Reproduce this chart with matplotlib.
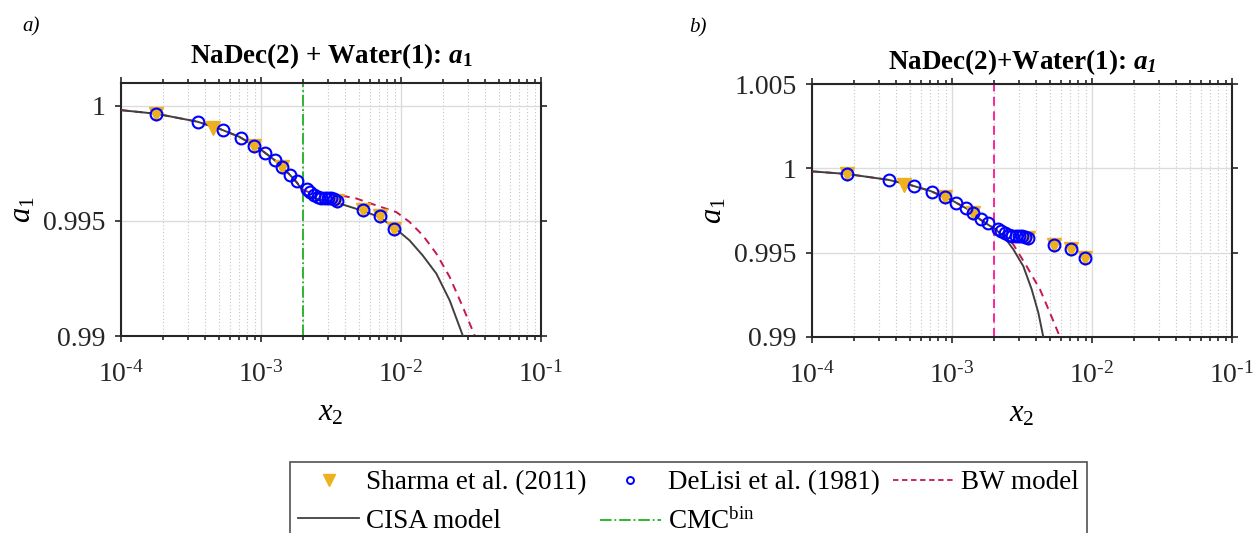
import matplotlib
matplotlib.use("Agg")
import numpy as np
import matplotlib.pyplot as plt
from matplotlib.ticker import LogLocator, NullFormatter, FixedLocator, FuncFormatter
from matplotlib.lines import Line2D

plt.rcParams['font.family'] = ['Liberation Serif', 'DejaVu Serif']
plt.rcParams['mathtext.fontset'] = 'custom'
plt.rcParams['mathtext.rm'] = 'Liberation Serif'
plt.rcParams['mathtext.it'] = 'Liberation Serif:italic'
plt.rcParams['mathtext.bf'] = 'Liberation Serif:bold'
plt.rcParams['mathtext.bfit'] = 'Liberation Serif:italic:bold'

delisi_x = [1.79e-4, 3.56e-4, 5.35e-4, 7.19e-4, 8.9e-4, 1.07e-3, 1.26e-3, 1.41e-3,
            1.60e-3, 1.80e-3, 2.12e-3, 2.25e-3, 2.40e-3, 2.55e-3, 2.70e-3, 2.85e-3,
            3.00e-3, 3.15e-3, 3.30e-3, 3.50e-3, 5.33e-3, 7.03e-3, 8.85e-3]
delisi_a1 = [0.99964, 0.99929, 0.99895, 0.99862, 0.99828, 0.99797, 0.99765, 0.99733,
             0.99702, 0.99674, 0.99641, 0.99628, 0.99615, 0.99605, 0.99600, 0.99600,
             0.99600, 0.99598, 0.99595, 0.99585, 0.99547, 0.99520, 0.99467]

sharma_x = [1.79e-4, 4.55e-4, 8.9e-4, 1.41e-3, 3.50e-3, 5.33e-3, 7.03e-3, 8.85e-3]
sharma_a1 = [0.99964, 0.99903, 0.99828, 0.99733, 0.99585, 0.99547, 0.99520, 0.99467]

# Model curves, panel a)
cisa_x_a = [1e-4, 1.8e-4, 3.5e-4, 5e-4, 7e-4, 1e-3, 1.3e-3, 1.6e-3, 1.8e-3, 2.0e-3,
            2.05e-3, 2.3e-3, 2.76e-3, 3.64e-3, 5.34e-3, 7.03e-3, 9.0e-3, 1.15e-2,
            1.43e-2, 1.79e-2, 2.23e-2, 2.77e-2]
cisa_a1_a = [0.99982, 0.99966, 0.99932, 0.99902, 0.99866, 0.99810, 0.99757, 0.99702,
             0.99668, 0.99628, 0.99612, 0.99603, 0.99590, 0.99576, 0.99544, 0.99517,
             0.99470, 0.99416, 0.99350, 0.99271, 0.99154, 0.99]
bw_x_a = [1e-4, 1.8e-4, 3.5e-4, 5e-4, 7e-4, 1e-3, 1.3e-3, 1.6e-3, 1.8e-3, 2.0e-3,
          2.2e-3, 2.76e-3, 3.64e-3, 4.79e-3, 6.65e-3, 9.25e-3, 1.15e-2, 1.43e-2,
          1.79e-2, 2.23e-2, 2.77e-2, 3.37e-2]
bw_a1_a = [0.99982, 0.99966, 0.99932, 0.99902, 0.99866, 0.99810, 0.99757, 0.99702,
           0.99668, 0.99636, 0.99625, 0.99619, 0.99612, 0.99598, 0.99568, 0.99539,
           0.99496, 0.99438, 0.99358, 0.99256, 0.99125, 0.99]

# Model curves, panel b)
cisa_x_b = [1e-4, 1.8e-4, 3.5e-4, 5e-4, 7e-4, 1e-3, 1.3e-3, 1.58e-3, 2.03e-3, 2.33e-3,
            2.74e-3, 3.23e-3, 3.71e-3, 4.14e-3, 4.49e-3]
cisa_a1_b = [0.99982, 0.99966, 0.99932, 0.99902, 0.99866, 0.99810, 0.99757, 0.99698,
             0.99639, 0.99599, 0.99520, 0.99420, 0.99282, 0.99143, 0.99]
bw_x_b = [1e-4, 1.8e-4, 3.5e-4, 5e-4, 7e-4, 1e-3, 1.3e-3, 1.58e-3, 2.03e-3, 2.33e-3,
          2.74e-3, 3.41e-3, 4.25e-3, 5.01e-3, 5.9e-3]
bw_a1_b = [0.99982, 0.99966, 0.99932, 0.99902, 0.99866, 0.99810, 0.99757, 0.99698,
           0.99642, 0.99619, 0.99549, 0.99420, 0.99282, 0.99143, 0.99]

cmc_x = 2e-3

ORANGE = '#EDB120'
BLUE = '#0000FF'
BW_RED = '#C8174A'
CISA_GRAY = '#404040'
CMC_GREEN = '#1FB01F'
CMC_PINK = '#FF1493'
INK = '#262626'
HYPHEN = '\u2010'

fig = plt.figure(figsize=(12.55, 5.33), dpi=100)
ax1 = fig.add_axes([121 / 1255, 1 - 336 / 533, 420 / 1255, 253 / 533])
ax2 = fig.add_axes([812 / 1255, 1 - 337 / 533, 420 / 1255, 253 / 533])


def pow10(v, pos):
    e = int(round(np.log10(v)))
    sign = HYPHEN if e < 0 else ''
    return '$\\mathregular{10^{' + sign + str(abs(e)) + '}}$'


def style_axes(ax, ylim, yticks):
    ax.set_xscale('log')
    ax.set_xlim(1e-4, 1e-1)
    ax.set_ylim(*ylim)
    ax.yaxis.set_major_locator(FixedLocator(yticks))
    ax.set_yticklabels([f'{t:g}' for t in yticks])
    ax.xaxis.set_major_locator(LogLocator(base=10, numticks=10))
    ax.xaxis.set_major_formatter(FuncFormatter(pow10))
    ax.xaxis.set_minor_locator(LogLocator(base=10, subs=range(2, 10), numticks=10))
    ax.xaxis.set_minor_formatter(NullFormatter())
    ax.grid(True, which='major', color='#dcdcdc', lw=1.0, ls='-')
    ax.grid(True, which='minor', axis='x', color='#c4c4c4', lw=0.8, ls=(0, (1, 2)))
    ax.tick_params(which='both', direction='out', top=True, right=True,
                   labelsize=20, colors=INK, width=1.2)
    ax.tick_params(which='major', length=4, pad=7)
    ax.tick_params(which='minor', length=3)
    ax.tick_params(axis='x', which='major', pad=14)
    for s in ax.spines.values():
        s.set_color(INK)
        s.set_linewidth(1.5)
    ax.set_axisbelow(True)


# panel a)
ax1.plot(cisa_x_a, cisa_a1_a, color=CISA_GRAY, lw=1.4, zorder=3)
ax1.plot(bw_x_a, bw_a1_a, color=BW_RED, lw=1.4, ls=(0, (4, 3)), zorder=2)
ax1.axvline(cmc_x, color=CMC_GREEN, lw=1.3, ls='-.', zorder=2)
ax1.plot(sharma_x, sharma_a1, 'v', color=ORANGE, ms=9.5, zorder=4)
ax1.plot(delisi_x, delisi_a1, 'o', mfc='none', mec=BLUE, mew=1.5, ms=8.5, zorder=5)
style_axes(ax1, (0.99, 1.001), [0.99, 0.995, 1])
ax1.set_title(r'NaDec(2) + Water(1): $\mathbfit{a}_{\mathbf{1}}$', fontsize=19.5,
              fontweight='bold', pad=14)
ax1.set_ylabel(r'$a_{\mathrm{1}}$', fontsize=22, labelpad=4)
ax1.set_xlabel(r'$x_2$', fontsize=22, labelpad=8)

# panel b)
ax2.plot(cisa_x_b, cisa_a1_b, color=CISA_GRAY, lw=1.4, zorder=3)
ax2.plot(bw_x_b, bw_a1_b, color=BW_RED, lw=1.4, ls=(0, (4, 3)), zorder=2)
ax2.axvline(cmc_x, color=CMC_PINK, lw=1.3, ls=(0, (5, 3)), zorder=2)
ax2.plot(sharma_x, sharma_a1, 'v', color=ORANGE, ms=9.5, zorder=4)
ax2.plot(delisi_x, delisi_a1, 'o', mfc='none', mec=BLUE, mew=1.5, ms=8.5, zorder=5)
style_axes(ax2, (0.99, 1.005), [0.99, 0.995, 1, 1.005])
ax2.set_title(r'NaDec(2)+Water(1): $\mathbfit{a}_{\mathbfit{1}}$', fontsize=19.5,
              fontweight='bold', pad=11)
ax2.set_ylabel(r'$a_1$', fontsize=22, labelpad=4)
ax2.set_xlabel(r'$x_2$', fontsize=22, labelpad=8)

fig.text(0.018, 0.968, 'a)', fontsize=15, style='italic', va='top')
fig.text(0.549, 0.965, 'b)', fontsize=15, style='italic', va='top')

handles = [
    Line2D([], [], ls='none', marker='v', color=ORANGE, ms=9),
    Line2D([], [], color=CISA_GRAY, lw=1.3),
    Line2D([], [], ls='none', marker='o', mfc='none', mec=BLUE, mew=1.4, ms=5),
    Line2D([], [], color=CMC_GREEN, lw=1.3, ls='-.'),
    Line2D([], [], color=BW_RED, lw=1.3, ls=(0, (3, 2))),
]
labels = ['Sharma et al. (2011)', 'CISA model', 'DeLisi et al. (1981)',
          r'CMC$^{\mathrm{bin}}$', 'BW model']
leg = fig.legend(handles, labels, loc='upper left',
                 bbox_to_anchor=(290 / 1255, 1 - 462 / 533),
                 ncol=3, fontsize=19.5, frameon=True, fancybox=False,
                 edgecolor=INK, handlelength=2.25, handletextpad=0.25,
                 columnspacing=0.5, labelspacing=0.5, borderpad=0.3,
                 borderaxespad=0)
leg.get_frame().set_linewidth(1.2)

fig.savefig('out.png', dpi=100)
